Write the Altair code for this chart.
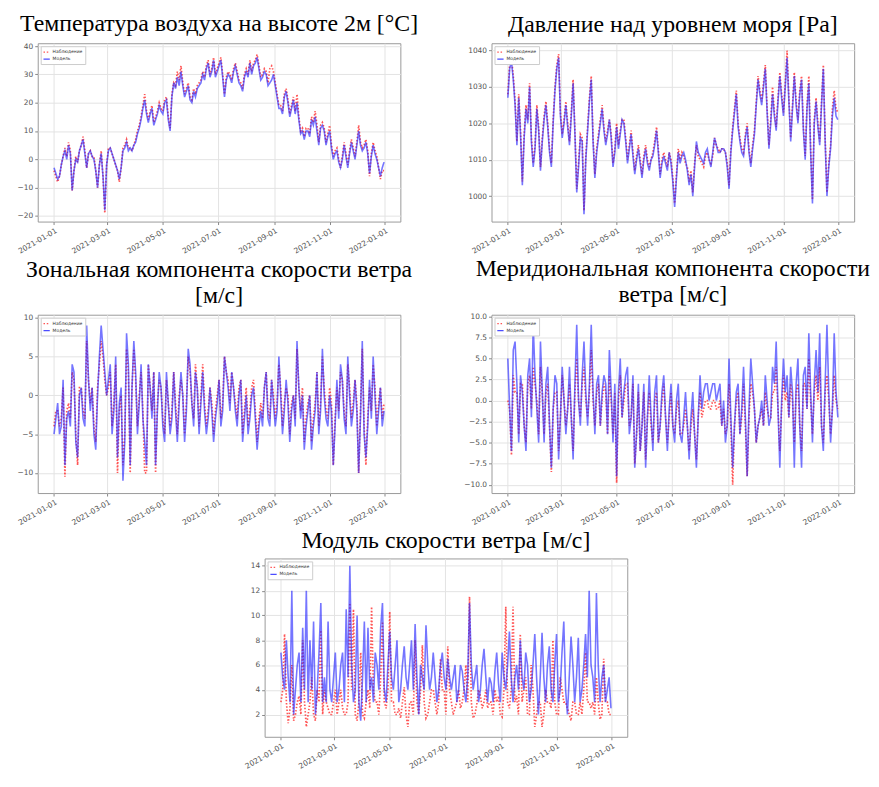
import altair as alt
import pandas as pd

# ---------------- data ----------------
# values are read on two interleaved date grids: days 0,4,8,... (A) and days 2,6,10,... (B)
dates_a = pd.date_range("2021-01-01", periods=92, freq="4D")
dates_b = pd.date_range("2021-01-03", periods=91, freq="4D")
SERIES = ["Наблюдение", "Модель"]

temp_mod_a = [-3,-7,-2,3,5,-11,0,3,7,-3,3,0,-10,2,-18,3,2,-2,-7,3,
              6,4,5,9,14,21,13,18,14,19,16,21,10,27,29,31,22,26,20,22,
              26,30,32,29,35,31,35,22,30,27,33,27,24,31,34,33,36,28,31,26,
              28,26,18,16,24,15,21,20,9,7,10,14,15,5,12,5,10,0,3,-3,
              5,-3,6,0,10,3,6,-5,5,0,-6,-1]
temp_mod_b = [-5,-6,1,0,2,-4,-1,5,2,2,1,-4,-2,-6,-2,4,0,-4,-3,4,
              3,3,6,11,18,16,16,12,16,17,20,14,22,25,26,26,24,21,24,25,
              27,28,34,31,29,33,29,28,29,31,30,26,29,29,30,34,32,29,30,27,
              30,22,18,22,20,18,16,14,10,10,8,12,10,11,10,8,4,2,-1,0,
              1,2,3,5,5,4,2,1,2,-3,-3]
temp_obs_a = [-4,-8,-2,4,6,-11,1,3,8,-3,3,1,-10,3,-19,4,2,-2,-8,4,
              7,4,5,10,15,23,14,19,15,20,17,22,11,27,31,33,23,27,21,23,
              27,31,33,30,36,32,36,23,31,28,34,28,25,32,35,34,37,29,32,27,
              33,27,19,17,25,16,22,23,10,8,11,15,17,6,13,6,12,1,4,-3,
              6,-2,7,1,12,4,7,-6,6,1,-7,-4]
temp_obs_b = [-6,-6,1,1,3,-4,-1,5,3,2,1,-4,-2,-6,-2,4,0,-4,-3,5,
              4,3,7,12,19,17,17,13,17,18,21,15,23,26,28,27,25,22,25,26,
              28,29,35,32,30,34,30,29,30,32,31,27,30,30,31,35,33,30,31,32,
              31,23,19,23,21,19,17,15,11,11,9,13,12,12,11,9,5,3,0,1,
              2,3,4,6,6,5,3,2,3,-3,-4]

pres_mod_a = [1027,1037,1025,1027,1003,1024,1030,1008,1024,1007,1021,1019,1008,1029,1038,1016,1025,1014,1031,1001,
              1016,995,1018,1032,1005,1016,1024,1014,1021,1008,1019,1017,1020,1009,1017,1006,1013,1005,1013,1007,
              1011,1018,1005,1011,1007,1009,997,1012,1011,1010,1003,1000,1015,1011,1009,1013,1008,1016,1012,1013,
              1012,1002,1018,1028,1015,1011,1019,1008,1017,1032,1025,1035,1013,1028,1018,1033,1022,1038,1015,1033,
              1020,1032,1010,1031,998,1026,1014,1035,1000,1013,1027,1021]
pres_mod_b = [1035,1032,1014,1017,1016,1020,1015,1013,1018,1015,1025,1012,1020,1035,1022,1020,1019,1022,1017,1008,
              1015,1010,1026,1015,1012,1020,1018,1017,1016,1012,1013,1021,1015,1013,1011,1010,1009,1010,1009,1010,
              1014,1012,1009,1009,1012,1004,1005,1009,1012,1007,1006,1008,1012,1010,1012,1010,1012,1014,1012,1013,
              1008,1012,1023,1019,1012,1016,1012,1013,1025,1028,1030,1023,1020,1022,1026,1027,1030,1026,1024,1025,
              1028,1018,1024,1012,1020,1019,1025,1015,1008,1022,1022]
pres_obs_a = [1028,1038,1026,1028,1004,1025,1031,1009,1025,1008,1022,1020,1009,1030,1039,1017,1026,1015,1032,1002,
              1017,996,1019,1033,1006,1017,1025,1015,1021,1009,1020,1018,1021,1010,1018,1007,1014,1006,1014,1008,
              1012,1019,1006,1012,1008,1010,998,1013,1012,1009,1004,1001,1014,1010,1008,1012,1009,1016,1013,1013,
              1012,1003,1019,1029,1016,1012,1020,1009,1018,1033,1026,1036,1014,1030,1019,1034,1023,1040,1016,1034,
              1021,1033,1011,1033,999,1027,1015,1036,1001,1014,1029,1023]
pres_obs_b = [1036,1033,1015,1018,1017,1021,1016,1014,1019,1016,1026,1013,1021,1036,1023,1021,1020,1023,1018,1009,
              1016,1011,1027,1016,1013,1021,1019,1018,1017,1013,1014,1021,1016,1014,1012,1011,1010,1011,1010,1010,
              1015,1013,1010,1010,1012,1005,1006,1010,1011,1008,1007,1009,1011,1009,1011,1010,1011,1014,1012,1013,
              1009,1013,1024,1020,1013,1017,1013,1014,1026,1029,1031,1024,1021,1023,1027,1028,1031,1027,1025,1026,
              1029,1019,1025,1013,1021,1020,1026,1016,1009,1024,1024]

u_mod_a = [-5,-1,-4,-9,-2,4,-6,0,-3,9,-2,-5,0,9,3,2,-5,5,-1,-11,
           8,-9,7,-5,4,-6,4,-3,-9,3,-4,3,-5,3,-6,3,-6,6,-1,3,
           -5,3,-5,1,-6,-1,-4,5,1,3,-2,0,-6,0,-3,1,-7,-2,1,-3,
           2,-4,5,-5,2,-6,0,7,-3,-7,-2,-7,-2,-5,6,-3,0,-9,2,4,
           -3,5,-4,2,-10,7,-8,2,5,-5,1,-2]
u_mod_b = [-3,-5,2,-3,-4,3,-8,1,-4,2,1,-7,5,6,0,4,-2,-8,1,-6,
           4,1,3,-1,-3,-9,1,3,-2,1,-6,-1,-3,-2,-1,0,-2,4,-4,1,
           -1,-2,-3,-2,-3,2,-2,3,-2,1,-4,2,-3,-5,0,-3,-4,-4,3,-4,
           -1,-2,0,-2,-1,-2,-4,1,0,-4,0,-4,3,-2,0,-4,-2,-4,-3,2,
           -5,0,-2,-2,-3,-5,-4,-3,0,-2,-4]
u_obs_a = [-4,-2,-3,-10.5,-1,3,-5,1,-2,7,-1,-4,1,7,2,1,-4,4,-2,-9,
           6,-10,6,-4,3,-10,4,-2,-10,2,-3,2,-4,3,-5,2,-5,5,-1,4,
           -4,4,-4,1,-5,0,-3,5,2,3,-1,1,-5,1,-2,2,-6,-1,1,-2,
           2,-3,4,-4,1,-5,0,6,-2,-6,-1,-6,-1,-4,5,-2,1,-9,1,3,
           -2,4,-3,2,-10,6,-9,1,4,-4,1,-1]
u_obs_b = [-2,-4,1,-2,-3,2,-9,1,-3,2,1,-6,4,5,0,3,-1,-10,0,-5,
           3,1,2,0,-2,-10,1,3,-1,1,-5,-1,-2,-1,0,0,-1,3,-3,1,
           0,-1,-2,-1,-2,2,-1,3,-1,1,-3,2,-2,-4,1,-2,-3,-3,3,-3,
           0,-1,1,-1,0,-1,-3,1,1,-3,0,-3,3,-1,1,-3,-1,-3,-2,2,
           -4,1,-1,-1,-2,-4,-3,-2,1,-1,-3]

v_mod_a = [5,-6,7,-5,1,-6,5,9,-1,7,-5,4,-8,3,-7,4,-4,4,-7,9,
           -3,7,-3,9,-4,3,1,2,6,-5,-9,5,1,4,-2,-8,2,-3,-8,3,
           -6,3,-3,3,-6,2,-5,2,-5,1,-7,1,-8,3,1,2,1,2,1,-3,
           -5,5,-8,1,-4,4,-9,5,-1,-3,0,3,-3,4,7,-8,5,3,4,-8,
           5,-8,4,8,-5,6,8,-6,9,-5,8,-2]
v_mod_b = [-1,6,2,3,-3,3,-2,3,-5,1,2,-3,-1,2,-2,0,-1,-2,2,0,
           3,1,2,1,2,-3,3,-4,1,2,1,-2,3,-4,3,-4,-6,2,-2,-2,
           1,-5,1,-2,-1,-3,0,-4,-2,-3,-2,-4,-2,-1,2,0,2,0,2,0,
           -3,-2,-3,2,-1,-2,-1,2,-5,-2,-3,0,-2,2,-1,0,1,-2,1,2,
           -3,3,-1,1,2,1,-3,2,1,-1,1]
v_obs_a = [0,-6.5,1,-4,2,-5,3,4,0,4,-4,2,-8.5,1,-6,3,-3,2,-6,5,
           -2,4,-2,6,-3,2,0,1,3,-4,-9.8,3,0,2,-2,-7.5,1,-3,-7,1,
           -5,1,-3,2,-5,1,-4,0,-4,-1,-6,-1,-7,1,-1,0,-1,0,-1,-3,
           -4,2,-10,0,-4,2,-9,2,-1,-3,-1,1,-2,1,4,-6,3,1,2,-5,
           2,-6,2,5,-4,3,4,-5,3,-4,3,-1]
v_obs_b = [-1,3,1,2,-3,2,-1,2,-4,1,1,-3,-1,1,-2,0,-1,-2,1,0,
           2,0,1,0,1,-3,2,-4,0,1,0,-2,2,-3,2,-4,-6,1,-2,-3,
           0,-5,0,-2,-2,-3,-1,-4,-3,-3,-3,-4,-2,-2,0,-1,0,-1,0,-1,
           -3,-3,-3,1,-2,-3,-2,1,-5,-2,-3,-1,-2,1,-1,-1,0,-2,0,1,
           -3,2,-1,0,1,0,-3,1,0,-1,0]

ws_mod_a = [7,4,5,12,4,7,9,12,8,9.5,4,11,5,9.5,3,7,4,7,10.5,14,
            3,10,1.5,9.5,9,5,7,4,11,3,8.7,4,8,4,7.5,4,8,9.3,2,5,
            9.2,4,7,3,6,5,6.5,4,6,4,5.5,3,11,4,6,4,7.3,3,4.5,5.5,
            4.5,7,4,8.7,3,6,8,4,6,4,8.5,2,8.6,3,7.5,3,8.5,4,9.5,2,
            8.3,3,8.2,4,8.5,12,5,11.8,3,6,4,2.5]
ws_mod_b = [5,8,3,2,6,3,4,3,4,2,7,3,3,4,5,3,6,3,5,6,
            4,3,5,3,4,3,6,9,4,6,5,6,3,6,5,6,4,5,6,4,
            6,5,5,4,7,4,5,5,3,6,4,5,6,5,3,6,5,5,3,7,
            3,5,6,5,5,4,5,7,3,6,5,5,5,6,4,6,3,7,4,5,
            6,5,3,6,5,6,3,6,5,3,5]
ws_obs_a = [3,8.5,1.3,6,2,3.5,8,1,3,2,4,8.8,4,2.5,2,4,3,2.5,2,11,
            10.5,1.5,7,1.7,4,10.7,3,2,9.5,2.5,10.3,3,2,1.7,4.2,1,3,8,2,7.6,
            1.7,3,4,2,6.5,4,7.5,3,2.5,4,3,6,11.5,1.7,2.8,3.5,3,2.5,3,4,
            3.5,1.8,10.7,2.5,10.7,3.5,8.5,4,2,6,1,3,1,4,3,8,2,5,3,2.5,
            1.5,3,2,2,7,3,3,5,1.6,6.5,3,2]
ws_obs_b = [4,3,2.5,1.5,3,2,3,2,5,1.5,3,2,3,2,3,2,4,2,3,4,
            2,3,2,3,2.5,4,3,5,3,4,3,2,2.5,3,2,3,2,3,4,3,
            2,4,3,3,4,2,4,2,3,2.5,4,3,3,2,4,2.5,4,3,2,3,
            2,4,3,4,3,2,3,5,2,4,2,3,2,3,2.5,3,2,4,3,2,
            3,2,3,4,3,2.5,2,3,2,3,2]

tick_dates = [(2021, 1), (2021, 3), (2021, 5), (2021, 7), (2021, 9), (2021, 11), (2022, 1)]

# ---------------- chart helpers ----------------
def make_df(mod_a, mod_b, obs_a, obs_b):
    parts = []
    for name, va, vb in ((SERIES[0], obs_a, obs_b), (SERIES[1], mod_a, mod_b)):
        d = pd.DataFrame({"date": list(dates_a) + list(dates_b),
                          "value": list(va) + list(vb)})
        d["series"] = name
        parts.append(d.sort_values("date"))
    return pd.concat(parts, ignore_index=True)


TITLE_FONT = "Liberation Serif"
W, H = 366, 180


def panel(title, data, ydom, yticks, yfmt):
    df = make_df(*data)
    x = alt.X(
        "date:T", title=None, sort=None,
        scale=alt.Scale(domain=[alt.DateTime(year=2020, month=12, date=14),
                                alt.DateTime(year=2022, month=1, date=18)]),
        axis=alt.Axis(values=[alt.DateTime(year=y, month=m, date=1) for y, m in tick_dates],
                      format="%Y-%m-%d", labelAngle=-30, labelAlign="right",
                      labelBaseline="top", labelPadding=2, minExtent=34, maxExtent=34),
    )
    y = alt.Y("value:Q", title=None,
              scale=alt.Scale(domain=ydom, nice=False, zero=False),
              axis=alt.Axis(values=yticks, format=yfmt))
    leg = alt.Legend(title=None, orient="top-left", offset=3, padding=2,
                     labelFontSize=4.5, symbolSize=40, symbolType="stroke",
                     symbolStrokeWidth=1.2, rowPadding=0, labelOffset=2,
                     labelFont="DejaVu Sans",
                     fillColor="white", strokeColor="#cccccc", labelColor="#333")
    color = alt.Color("series:N", title=None,
                      scale=alt.Scale(domain=SERIES, range=["#ff2a2a", "#2020ff"]),
                      legend=leg)
    dash = alt.StrokeDash("series:N", title=None,
                          scale=alt.Scale(domain=SERIES, range=[[1.5, 1.8], [1, 0]]),
                          legend=leg)
    base = alt.Chart(df).encode(x=x, y=y, color=color, strokeDash=dash)
    obs_l = base.transform_filter(alt.datum.series == SERIES[0]).mark_line(
        strokeWidth=1.7, opacity=0.8)
    mod_l = base.transform_filter(alt.datum.series == SERIES[1]).mark_line(
        strokeWidth=1.6, opacity=0.62)
    return alt.layer(obs_l, mod_l).properties(
        width=W, height=H,
        title=alt.TitleParams(text=title, font=TITLE_FONT, fontSize=24,
                              fontWeight="normal", color="black", anchor="middle",
                              offset=6, lineHeight=26),
        view=alt.ViewBackground(stroke="#9a9a9a", strokeWidth=1),
    )


p1 = panel("Температура воздуха на высоте 2м [°C]",
           (temp_mod_a, temp_mod_b, temp_obs_a, temp_obs_b),
           [-22, 41], [-20, -10, 0, 10, 20, 30, 40], "d")
p2 = panel("Давление над уровнем моря [Pa]",
           (pres_mod_a, pres_mod_b, pres_obs_a, pres_obs_b),
           [993, 1042], [1000, 1010, 1020, 1030, 1040], "d")
p3 = panel(["Зональная компонента скорости ветра", "[м/с]"],
           (u_mod_a, u_mod_b, u_obs_a, u_obs_b),
           [-12.6, 10.4], [-10, -5, 0, 5, 10], "d")
p4 = panel(["Меридиональная компонента скорости", "ветра [м/с]"],
           (v_mod_a, v_mod_b, v_obs_a, v_obs_b),
           [-11, 10.2], [-10, -7.5, -5, -2.5, 0, 2.5, 5, 7.5, 10], ".1f")
p5 = panel("Модуль скорости ветра [м/с]",
           (ws_mod_a, ws_mod_b, ws_obs_a, ws_obs_b),
           [0.2, 14.6], [2, 4, 6, 8, 10, 12, 14], "d")

spacer = alt.Chart(pd.DataFrame({"a": [0]})).mark_point(opacity=0, size=1).encode(
    x=alt.value(20), y=alt.value(5)
).properties(width=229, height=10, view=alt.ViewBackground(stroke="transparent"))


def indep(c):
    return c.resolve_scale(color="independent", strokeDash="independent").resolve_legend(
        color="independent", strokeDash="independent")


row1 = indep(alt.hconcat(p1, p2, spacing=92, bounds="flush"))
row2 = indep(alt.hconcat(p3, p4, spacing=92, bounds="flush"))
row3 = indep(alt.hconcat(spacer, p5, spacing=0, bounds="flush"))

chart = indep(alt.vconcat(row1, row2, row3, spacing=0)).properties(
    padding={"left": 8, "top": 0, "right": 0, "bottom": 0}, background="white"
).configure_axis(
    labelFont="DejaVu Sans", labelFontSize=7.5, labelColor="#555555",
    tickColor="#888888", tickSize=3, domain=False,
    gridColor="#e3e3e3", gridWidth=1,
).configure_title(font=TITLE_FONT, fontWeight="normal")

chart.save("out.html", embed_options={"renderer": "svg", "actions": False})
